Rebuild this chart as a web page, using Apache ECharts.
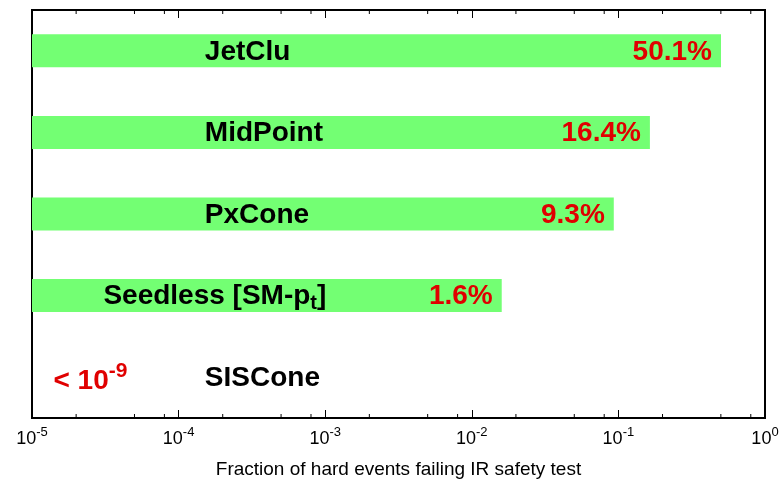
<!DOCTYPE html>
<html><head><meta charset="utf-8">
<script src="https://cdn.jsdelivr.net/npm/echarts@6/dist/echarts.min.js"></script>
<style>html,body{margin:0;padding:0;background:#fff}#c{width:781px;height:480px}</style>
</head><body><div id="c"></div>
<script>
// ---------------- data ----------------
const categories = ['JetClu', 'MidPoint', 'PxCone', 'Seedless [SM-p_t]', 'SISCone'];
const failFraction = [0.501, 0.164, 0.093, 0.016, null];   // SISCone: below 1e-9
const boundText = ['', '', '', '', '< 10^-9'];
const majorTicks = [1e-5, 1e-4, 1e-3, 1e-2, 1e-1, 1];
const minorTicks = [2e-5, 5e-5, 8e-5, 2e-4, 5e-4, 8e-4, 2e-3, 5e-3, 8e-3, 2e-2, 5e-2, 8e-2, 2e-1, 5e-1, 8e-1];
const xAxisTitle = 'Fraction of hard events failing IR safety test';

// ---------------- layout (not data) ----------------
const nameAnchor = [1.51e-4, 1.51e-4, 1.51e-4, 3.07e-5, 1.51e-4];
const boundAnchor = 1.40e-5;
const FONT = '"Liberation Sans", Arial, Helvetica, sans-serif';
const BAR_H = 33;
const GREEN = '#73ff73';
const RED = '#e00000';

const chart = echarts.init(document.getElementById('c'));

function richName(s) {
  const m = s.match(/^(.*)_(\w)(.*)$/);
  if (!m) return '{n|' + s + '}';
  return '{n|' + m[1] + '}{sub|' + m[2] + '}{n|' + m[3] + '}';
}
function richBound(s) {
  const m = s.match(/^(.*)\^(.*)$/);
  if (!m) return '{r|' + s + '}';
  return '{r|' + m[1] + '}{sup|' + m[2] + '}';
}

const barData = [];
failFraction.forEach((v, i) => { if (v != null) barData.push([v, i]); });
const labelData = categories.map((c, i) => [nameAnchor[i], i]);
const boundData = [];
boundText.forEach((t, i) => { if (t) boundData.push([boundAnchor, i, t]); });

const axisCommon = {
  type: 'log', logBase: 10, min: majorTicks[0], max: majorTicks[majorTicks.length - 1],
  axisLine: { show: false },
  axisTick: { show: true, inside: true, length: 8, lineStyle: { color: '#000', width: 1 } },
  splitLine: { show: false },
  minorTick: { show: false }
};

chart.setOption({
  animation: false,
  backgroundColor: '#fff',
  grid: { left: 32, right: 16, top: 10, bottom: 62, show: true, borderColor: '#000', borderWidth: 2, backgroundColor: 'transparent', containLabel: false, outerBoundsMode: 'none' },
  xAxis: [
    Object.assign({}, axisCommon, {
      position: 'bottom',
      name: xAxisTitle, nameLocation: 'middle', nameGap: 42,
      nameTextStyle: { fontFamily: FONT, fontSize: 19, color: '#000' },
      axisLabel: {
        show: true, margin: 8, color: '#000', fontFamily: FONT,
        formatter: v => '{b|10}{s|' + Math.round(Math.log10(v)) + '}',
        rich: {
          b: { fontFamily: FONT, fontSize: 18, color: '#000', lineHeight: 22, verticalAlign: 'bottom' },
          s: { fontFamily: FONT, fontSize: 13, color: '#000', lineHeight: 13, verticalAlign: 'top' }
        }
      }
    }),
    Object.assign({}, axisCommon, { position: 'top', axisLabel: { show: false } })
  ],
  yAxis: {
    type: 'category', data: categories, inverse: true,
    axisLine: { show: false }, axisTick: { show: false }, axisLabel: { show: false }, splitLine: { show: false }
  },
  series: [
    {
      type: 'custom', xAxisIndex: 0, data: barData, clip: false,
      renderItem: (params, api) => {
        const v = api.value(0), c = api.value(1);
        const s = api.coord([majorTicks[0], c]);
        const e = api.coord([v, c]);
        return {
          type: 'group', children: [
            { type: 'rect', shape: { x: s[0], y: s[1] - BAR_H / 2, width: e[0] - s[0], height: BAR_H }, style: { fill: GREEN } },
            { type: 'text', x: e[0] - 9, y: e[1] + 1, style: { text: (v * 100).toFixed(1) + '%', fill: RED, font: 'bold 28px ' + FONT, align: 'right', verticalAlign: 'middle' } }
          ]
        };
      }
    },
    {
      type: 'custom', xAxisIndex: 0, data: labelData, clip: false,
      renderItem: (params, api) => {
        const p = api.coord([api.value(0), api.value(1)]);
        return {
          type: 'text', x: p[0], y: p[1] + 1,
          style: {
            text: richName(categories[params.dataIndex]), align: 'left', verticalAlign: 'middle',
            rich: {
              n: { fontFamily: FONT, fontWeight: 'bold', fontSize: 28, fill: '#000', lineHeight: 34, verticalAlign: 'middle' },
              sub: { fontFamily: FONT, fontWeight: 'bold', fontSize: 20, fill: '#000', lineHeight: 14, verticalAlign: 'bottom' }
            }
          }
        };
      }
    },
    {
      type: 'custom', xAxisIndex: 0, data: boundData, clip: false,
      dimensions: ['x', 'y', 't'],
      renderItem: (params, api) => {
        const p = api.coord([api.value(0), api.value(1)]);
        return {
          type: 'text', x: p[0], y: p[1] + 1,
          style: {
            text: richBound(boundData[params.dataIndex][2]), align: 'left', verticalAlign: 'middle',
            rich: {
              r: { fontFamily: FONT, fontWeight: 'bold', fontSize: 28, fill: RED, lineHeight: 34, verticalAlign: 'bottom' },
              sup: { fontFamily: FONT, fontWeight: 'bold', fontSize: 21, fill: RED, lineHeight: 20, verticalAlign: 'top' }
            }
          }
        };
      }
    },
    {
      type: 'custom', xAxisIndex: 0, data: minorTicks.map(v => [v, 0]), clip: false, silent: true,
      renderItem: (params, api) => {
        const cs = params.coordSys;
        const x = api.coord([api.value(0), 0])[0];
        const st = { stroke: '#000', lineWidth: 1 };
        return {
          type: 'group', children: [
            { type: 'line', shape: { x1: x, y1: cs.y + cs.height, x2: x, y2: cs.y + cs.height - 4 }, style: st },
            { type: 'line', shape: { x1: x, y1: cs.y, x2: x, y2: cs.y + 4 }, style: st }
          ]
        };
      }
    }
  ]
});
</script></body></html>
